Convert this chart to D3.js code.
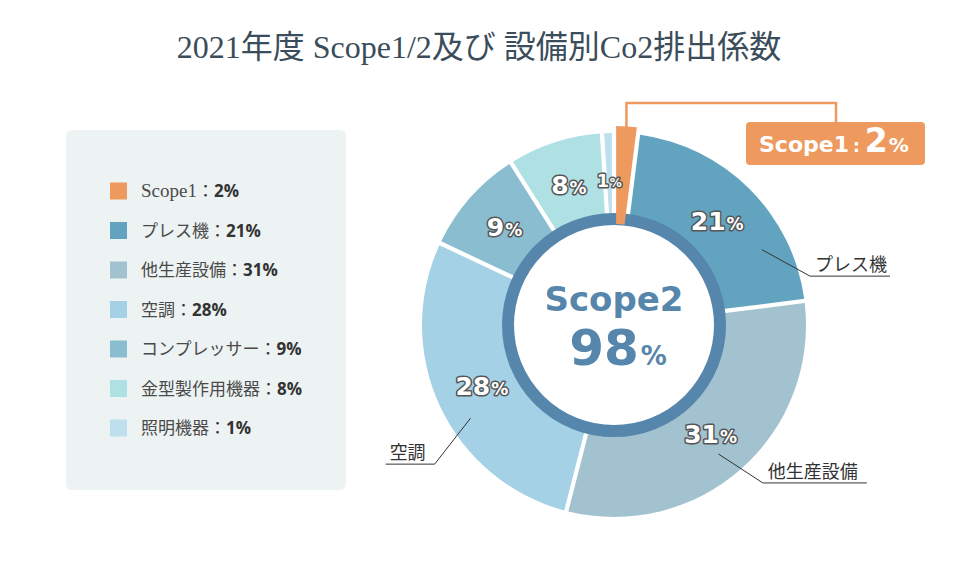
<!DOCTYPE html>
<html><head><meta charset="utf-8">
<script src="https://cdn.jsdelivr.net/npm/d3@7"></script>
<style>body{margin:0;background:#fff}svg{display:block}</style>
</head><body>
<svg id="chart" width="960" height="574"></svg>
<script>
// ---- data ----
const title = "2021年度 Scope1/2及び 設備別Co2排出係数";
const categories = ["Scope1", "プレス機", "他生産設備", "空調", "コンプレッサー", "金型製作用機器", "照明機器"];
const values = [2, 21, 31, 28, 9, 8, 1];
const centerLabel = "Scope2";
const centerValue = 98;
const colors = ["#ee9a5f", "#62a3c0", "#a3c2cf", "#a4d1e5", "#8bbdd1", "#aee0e4", "#bde0ec"];
// leader annotations: start angle/radius, elbow angle/radius, horizontal run
const leaders = [
  {name: "プレス機", a0: 63, r0: 166, a1: 76, r1: 202, run: 80},
  {name: "他生産設備", a0: 141, r0: 166, a1: 136.7, r1: 217, run: 104},
  {name: "空調", a0: 237, r0: 171, a1: 232.2, r1: 227, run: -49}
];

const svg = d3.select("#chart");
const cx = 614, cy = 325;
const rad = d => d * Math.PI / 180;
const polar = (deg, r) => [cx + r * Math.sin(rad(deg)), cy - r * Math.cos(rad(deg))];

// title
svg.append("text").attr("x", 479).attr("y", 58).attr("text-anchor", "middle")
  .attr("font-family", "'Liberation Serif','Noto Sans CJK JP',serif").attr("font-size", 32)
  .attr("fill", "#3b4d5a").text(title);

// legend panel
svg.append("rect").attr("x", 66).attr("y", 130).attr("width", 280).attr("height", 360)
  .attr("rx", 6).attr("fill", "#edf2f2");
const ly = d3.scalePoint().domain(categories).range([191, 428]);
const lg = svg.append("g").selectAll("g").data(categories).join("g")
  .attr("transform", d => `translate(0,${ly(d)})`);
lg.append("rect").attr("x", 110).attr("y", -8.5).attr("width", 17).attr("height", 17)
  .attr("fill", (d, i) => colors[i]);
const lt = lg.append("text").attr("x", 141).attr("y", 6).attr("font-size", 17).attr("fill", "#4a4a4a")
  .attr("font-family", "'Liberation Serif','Noto Sans CJK JP',serif");
lt.append("tspan").attr("font-size", d => /^[\x00-\x7F]+$/.test(d) ? 19 : 17).text(d => d);
lt.append("tspan").attr("font-family", "'Noto Sans CJK JP',sans-serif").attr("fill", "#333").text("：");
lt.append("tspan").attr("font-family", "'Open Sans',sans-serif").attr("font-weight", 700).attr("fill", "#333")
  .text((d, i) => values[i] + "%");

// pie
const pie = d3.pie().sort(null).value(d => d.v);
const arcsData = pie(categories.map((c, i) => ({c, v: values[i], i})));
const arc = d3.arc().innerRadius(110).outerRadius(192).padAngle(0.022).padRadius(192);
const arcS1 = d3.arc().innerRadius(101).outerRadius(199).padAngle(0.022).padRadius(192);
const g = svg.append("g").attr("transform", `translate(${cx},${cy})`);
g.selectAll("path.slice").data(arcsData.filter(d => d.data.i !== 0)).join("path")
  .attr("class", "slice").attr("d", arc).attr("fill", d => colors[d.data.i]);

// inner ring
g.append("circle").attr("r", 106).attr("fill", "#fff").attr("stroke", "#5686ab").attr("stroke-width", 12);

// scope1 slice on top
const s1 = arcsData[0];
g.append("path").attr("d", arcS1(s1)).attr("fill", colors[0]);

// slice labels
const labelArc = d3.arc().innerRadius(146).outerRadius(146);
const lbl = g.selectAll("text.lbl").data(arcsData.filter(d => d.data.i !== 0)).join("text")
  .attr("class", "lbl")
  .attr("transform", d => { const c = labelArc.centroid(d); return `translate(${c[0]},${c[1] + 8})`; })
  .attr("text-anchor", "middle")
  .attr("font-family", "'DejaVu Sans',sans-serif").attr("font-weight", 700)
  .attr("fill", "#fff").attr("stroke", "#555").attr("stroke-width", 3)
  .attr("stroke-linejoin", "round").attr("paint-order", "stroke");
lbl.append("tspan").attr("font-size", d => d.data.v < 3 ? 17 : 25).text(d => d.data.v);
lbl.append("tspan").attr("font-size", d => d.data.v < 3 ? 12 : 17).attr("dx", 1).text("%");

// center
g.append("text").attr("y", -14).attr("text-anchor", "middle").attr("font-family", "'DejaVu Sans',sans-serif")
  .attr("font-weight", 700).attr("font-size", 34).attr("fill", "#5686ab").text(centerLabel);
const ct = g.append("text").attr("x", 4).attr("y", 40).attr("text-anchor", "middle").attr("font-family", "'DejaVu Sans',sans-serif")
  .attr("font-weight", 700).attr("fill", "#5686ab");
ct.append("tspan").attr("font-size", 50).text(centerValue);
ct.append("tspan").attr("font-size", 26).attr("dx", 2).text("%");

// leaders
leaders.forEach(l => {
  const p0 = polar(l.a0, l.r0), p1 = polar(l.a1, l.r1), p2 = [p1[0] + l.run, p1[1]];
  svg.append("path").attr("d", d3.line()([p0, p1, p2])).attr("fill", "none")
    .attr("stroke", "#333").attr("stroke-width", 1);
  svg.append("text").attr("x", l.run > 0 ? p1[0] + 5 : p2[0] + 4).attr("y", p1[1] - 5)
    .attr("font-family", "'Noto Sans CJK JP',sans-serif").attr("font-size", 18).attr("fill", "#333")
    .text(l.name);
});

// scope1 callout
const s1mid = (s1.startAngle + s1.endAngle) / 2 * 180 / Math.PI;
const s1top = polar(s1mid, 198);
const boxX = 746, boxY = 122, boxW = 179, boxH = 43;
svg.append("path").attr("d", d3.line()([s1top, [s1top[0], 103], [boxX + 90, 103], [boxX + 90, boxY]]))
  .attr("fill", "none").attr("stroke", colors[0]).attr("stroke-width", 2.5);
svg.append("rect").attr("x", boxX).attr("y", boxY).attr("width", boxW).attr("height", boxH)
  .attr("rx", 4).attr("fill", colors[0]);
const bt = svg.append("text").attr("x", boxX + 13).attr("y", boxY + 30)
  .attr("font-family", "'DejaVu Sans',sans-serif").attr("font-weight", 700).attr("fill", "#fff");
bt.append("tspan").attr("font-size", 22).text(categories[0]);
bt.append("tspan").attr("font-size", 17).attr("dx", 4).text(":");
bt.append("tspan").attr("font-size", 33).attr("dx", 5).text(values[0]);
bt.append("tspan").attr("font-size", 20).attr("dx", 1).text("%");
</script>
</body></html>
